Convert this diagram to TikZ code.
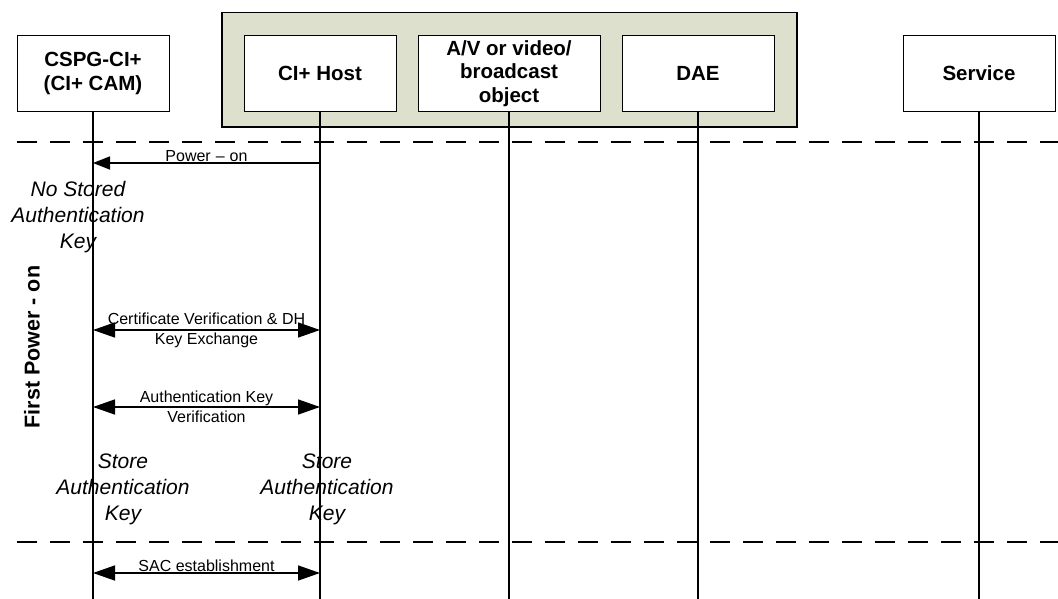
\documentclass[tikz,border=0pt]{standalone}
\usepackage{fontspec}
\setmainfont{Liberation Sans}
\usetikzlibrary{arrows.meta,positioning}
\definecolor{hostgreen}{RGB}{221,224,204}

\begin{document}
\begin{tikzpicture}[
    x=1pt, y=-1pt,
    node distance=21pt,
    every node/.style={align=center},
    entity/.style={draw=black, line width=1pt, fill=white, minimum width=152pt, minimum height=76pt, inner sep=2pt, font=\fontsize{20.5}{23.5}\selectfont\bfseries},
    group/.style={draw=black, line width=1.2pt, fill=hostgreen},
    lifeline/.style={line width=1.5pt},
    phase/.style={line width=2pt, dash pattern=on 19.5pt off 13.5pt},
    msg/.style={line width=1.5pt, -{Triangle[length=17pt,width=13pt]}},
    exchange/.style={line width=1.5pt, {Triangle[length=22pt,width=15pt]}-{Triangle[length=22pt,width=15pt]}},
    msglabel/.style={font=\fontsize{16}{20}\selectfont, inner sep=1pt},
    note/.style={font=\fontsize{21}{26}\selectfont\itshape, inner sep=0pt}
  ]
    \useasboundingbox (0,0) rectangle (1058,599);

    % Host side frame
    \draw[group] (222,12.5) rectangle (797,127);

    % Entities
    \node[entity] (cam) at (93,73.5) {CSPG-CI+\\(CI+ CAM)};
    \node[entity, right=74pt of cam] (host) {CI+ Host};
    \node[entity, right=of host, minimum width=182pt] (av) {A/V or video/\\broadcast\\object};
    \node[entity, right=of av] (dae) {DAE};
    \node[entity, right=128pt of dae] (service) {Service};

    % Lifelines
    \foreach \n in {cam,host,av,dae,service}
      \draw[lifeline] (\n.south) -- (\n |- 0,599);

    % Phase separators
    \draw[phase] (17,142) -- (1058,142);
    \draw[phase] (17,542) -- (1058,542);
    \node[rotate=90, font=\fontsize{21.5}{24}\selectfont\bfseries] (first) at (32,347) {First Power - on};

    % Messages
    \draw[msg] (host |- 0,163) -- (cam |- 0,163) node[midway, above, msglabel] {Power\hspace{5pt}–\hspace{5pt}on};
    \draw[exchange] (cam |- 0,330) -- (host |- 0,330) node[midway, msglabel] {Certificate Verification \& DH\\Key Exchange};
    \draw[exchange] (cam |- 0,407) -- (host |- 0,407) node[midway, msglabel] {Authentication Key\\Verification};
    \draw[exchange] (cam |- 0,573) -- (host |- 0,573) node[midway, above, msglabel] {SAC establishment};

    % Notes
    \node[note] (nokey) at (78,217) {No Stored\\Authentication\\Key};
    \node[note] (camkey) at (123,489) {Store\\Authentication\\Key};
    \node[note] (hostkey) at (327,489) {Store\\Authentication\\Key};

  \end{tikzpicture}
\end{document}
